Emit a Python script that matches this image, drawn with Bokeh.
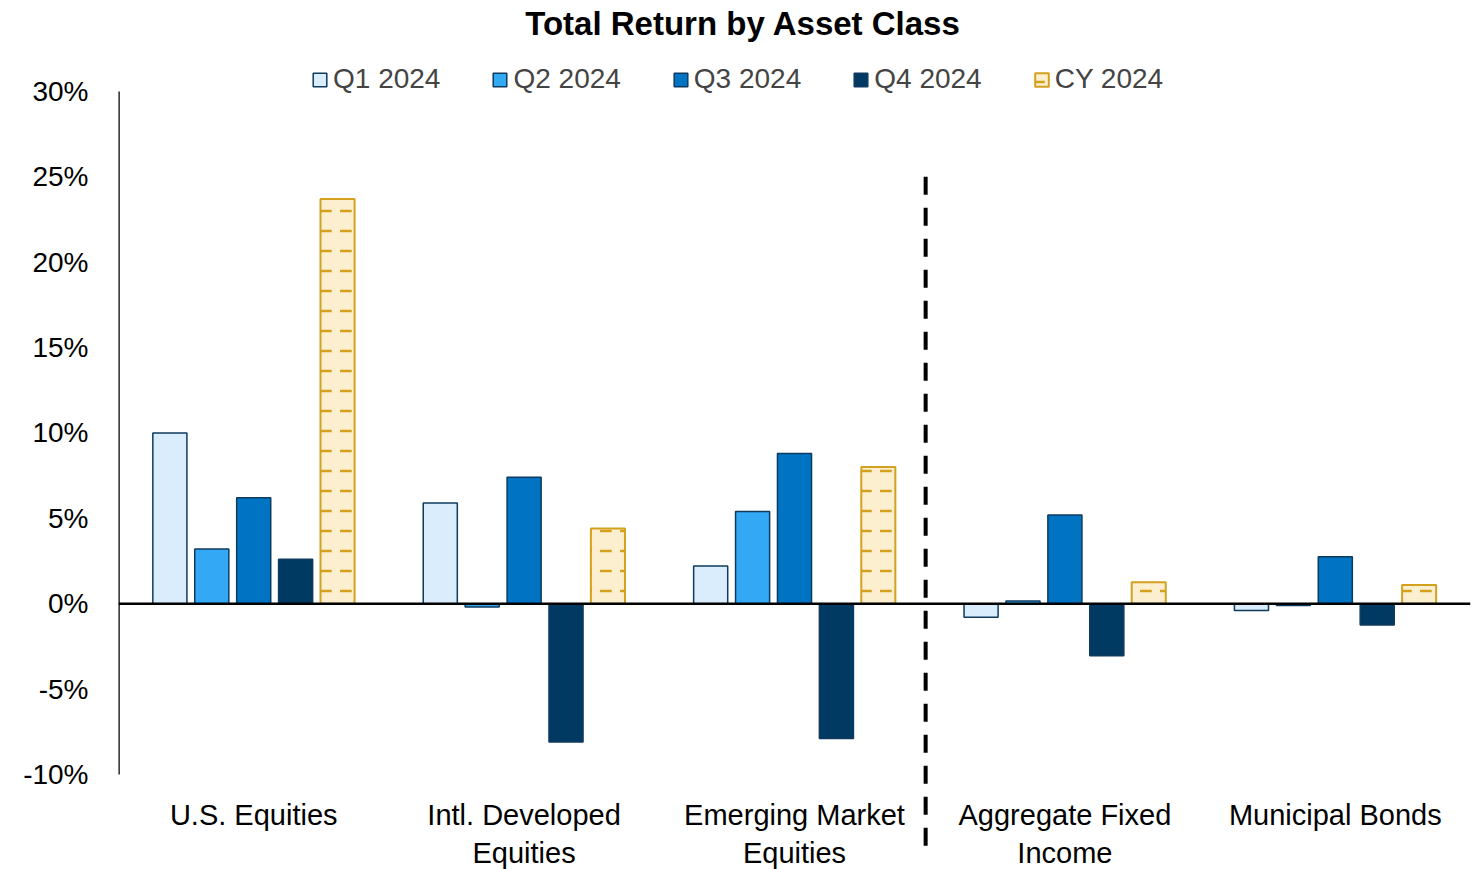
from bokeh.plotting import figure
from bokeh.models import (Range1d, FixedTicker, PrintfTickFormatter, Legend,
                          LegendItem, ColumnDataSource)
from bokeh.core.properties import value
from bokeh.embed import file_html
from bokeh.resources import INLINE

# ---- data ----
categories = ["U.S. Equities", "Intl. Developed\nEquities", "Emerging Market\nEquities",
              "Aggregate Fixed\nIncome", "Municipal Bonds"]
series = ["Q1 2024", "Q2 2024", "Q3 2024", "Q4 2024", "CY 2024"]
q1 = [10.0, 5.9, 2.2, -0.8, -0.4]
q2 = [3.2, -0.2, 5.4, 0.15, -0.1]
q3 = [6.2, 7.4, 8.8, 5.2, 2.75]
q4 = [2.6, -8.1, -7.9, -3.05, -1.25]
cy = [23.7, 4.4, 8.0, 1.25, 1.1]
y_ticks = [-10, -5, 0, 5, 10, 15, 20, 25, 30]
title_text = "Total Return by Asset Class"

FONT = "Liberation Sans"
fills = ["#DAEDFD", "#33A9F5", "#0074C2", "#003A62", "#FBEFCF"]
outline = "#0F3B5F"
gold = "#D4A11E"

p = figure(width=1478, height=869, output_backend="svg", toolbar_location=None,
           x_range=Range1d(0, 5), y_range=Range1d(-15.57, 35.33),
           x_axis_location=None, y_axis_location="left",
           min_border_left=118, min_border_right=8, min_border_top=0, min_border_bottom=0)
p.grid.visible = False
p.outline_line_color = None
p.background_fill_color = "white"

ax = p.yaxis[0]
ax.ticker = FixedTicker(ticks=y_ticks)
ax.formatter = PrintfTickFormatter(format="%d%%")
ax.axis_line_color = None
ax.major_tick_line_color = None
ax.minor_tick_line_color = None
ax.major_tick_out = 0
ax.major_tick_in = 0
ax.major_label_standoff = 30
ax.major_label_text_font = FONT
ax.major_label_text_font_size = "28px"
ax.major_label_text_color = "black"

data = [q1, q2, q3, q4, cy]
offsets = [-0.31, -0.155, 0.0, 0.155, 0.31]
bw = 0.126
renderers = []
for i, (name, vals) in enumerate(zip(series, data)):
    xs = [j + 0.5 + offsets[i] for j in range(len(categories))]
    src = ColumnDataSource(dict(x=xs, top=vals))
    if i == 4:
        r = p.vbar(x="x", top="top", bottom=0, width=bw, source=src,
                   fill_color=fills[i], line_color=gold, line_width=2,
                   hatch_pattern="horizontal_dash", hatch_color=gold,
                   hatch_scale=20, hatch_weight=2.5)
    else:
        r = p.vbar(x="x", top="top", bottom=0, width=bw, source=src,
                   fill_color=fills[i], line_color=outline, line_width=1.5)
    renderers.append(r)

# axis lines
p.segment(x0=[0], y0=[-10], x1=[0], y1=[30], line_color="black", line_width=2.5)
p.segment(x0=[0], y0=[0], x1=[5], y1=[0], line_color="black", line_width=2.5)
# divider between equities and fixed income
p.segment(x0=[2.985], y0=[25], x1=[2.985], y1=[-14.75], line_color="black",
          line_width=4, line_dash="18 13")

# category labels
p.text(x=[j + 0.5 for j in range(len(categories))], y=[-11.45] * len(categories),
       text=categories, text_align="center", text_baseline="top",
       text_font=value(FONT), text_font_size=value("29px"), text_line_height=1.18,
       text_color="black")

# title
p.text(x=[2.31], y=[33.98], text=[title_text], text_align="center",
       text_baseline="middle", text_font=value(FONT), text_font_style="bold",
       text_font_size=value("33px"), text_color="black")

legend = Legend(items=[LegendItem(label=s, renderers=[r]) for s, r in zip(series, renderers)],
                orientation="horizontal", location=(193, 774),
                label_text_font=FONT, label_text_font_size="28px",
                glyph_width=17, glyph_height=17, spacing=51, padding=0, margin=0,
                border_line_color=None, background_fill_alpha=0, label_standoff=5)
p.add_layout(legend)

open("out.html", "w").write(file_html(p, INLINE))
